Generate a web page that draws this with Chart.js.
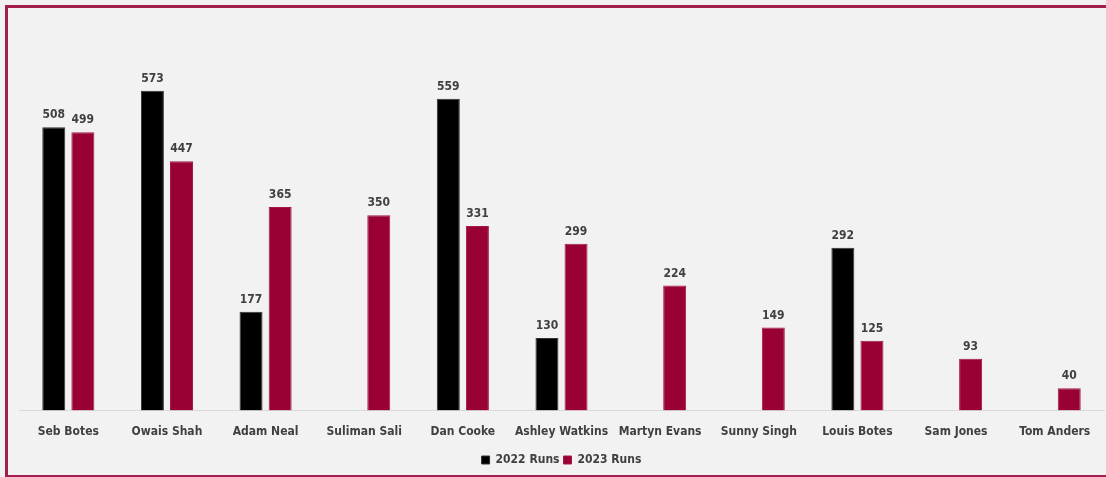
<!DOCTYPE html>
<html>
<head>
<meta charset="utf-8">
<script src="https://cdn.jsdelivr.net/npm/chart.js@4"></script>
<style>
  html, body { margin: 0; padding: 0; background: #f2f2f2; overflow: hidden; }
  #frame { position: absolute; left: 5px; top: 5px; width: 1200px; height: 473px; border: 3px solid #a21e4d; box-sizing: border-box; }
  #wrap { position: absolute; left: 0; top: 0; width: 1106px; height: 477px; }
</style>
</head>
<body>
<div id="frame"></div>
<div id="wrap"><canvas id="runsChart"></canvas></div>
<script>
const players = ['Seb Botes', 'Owais Shah', 'Adam Neal', 'Suliman Sali', 'Dan Cooke', 'Ashley Watkins',
    'Martyn Evans', 'Sunny Singh', 'Louis Botes', 'Sam Jones', 'Tom Anders'];
const runs2022 = [508, 573, 177, null, 559, 130, null, null, 292, null, null];
const runs2023 = [499, 447, 365, 350, 331, 299, 224, 149, 125, 93, 40];

const FONT = '"Liberation Sans Narrow", "DejaVu Sans Condensed", sans-serif';
const TEXT = '#404040';

// labels above each bar
const barLabels = {
    id: 'barLabels',
    afterDatasetsDraw(chart) {
        const ctx = chart.ctx;
        ctx.save();
        ctx.font = 'bold 12px ' + FONT;
        ctx.fillStyle = TEXT;
        ctx.textAlign = 'center';
        ctx.textBaseline = 'bottom';
        chart.data.datasets.forEach((ds, i) => {
            chart.getDatasetMeta(i).data.forEach((bar, j) => {
                if (ds.data[j] == null) return;
                ctx.fillText(ds.data[j], bar.x, bar.y - 6);
            });
        });
        ctx.restore();
    }
};

window.onload = () => {
    const ctx = document.getElementById('runsChart').getContext('2d');
    new Chart(ctx, {
        type: 'bar',
        data: {
            labels: players,
            datasets: [{
                label: '2022 Runs',
                data: runs2022,
                backgroundColor: '#000000',
                borderColor: '#333333',
                borderWidth: 1,
                barPercentage: 0.79,
                categoryPercentage: 0.59
            }, {
                label: '2023 Runs',
                data: runs2023,
                backgroundColor: '#990033',
                borderColor: '#a31a45',
                borderWidth: 1,
                barPercentage: 0.79,
                categoryPercentage: 0.59
            }]
        },
        options: {
            responsive: true,
            maintainAspectRatio: false,
            animation: false,
            layout: { padding: { left: 19, right: 2, top: 20, bottom: 1 } },
            plugins: {
                tooltip: { enabled: false },
                legend: {
                    position: 'bottom',
                    labels: {
                        boxWidth: 8,
                        boxHeight: 8,
                        padding: 4,
                        color: TEXT,
                        font: { family: FONT, size: 12, weight: 'bold' }
                    }
                }
            },
            scales: {
                x: {
                    grid: { display: false, drawTicks: false },
                    border: { color: '#d9d9d9', width: 1 },
                    afterFit: (scale) => { scale.height -= 3; },
                    ticks: {
                        color: TEXT,
                        padding: 14,
                        maxRotation: 0,
                        autoSkip: false,
                        font: { family: FONT, size: 12, weight: 'bold' }
                    }
                },
                y: {
                    display: false,
                    min: 0,
                    max: 700
                }
            }
        },
        plugins: [barLabels]
    });
};
</script>
</body>
</html>
